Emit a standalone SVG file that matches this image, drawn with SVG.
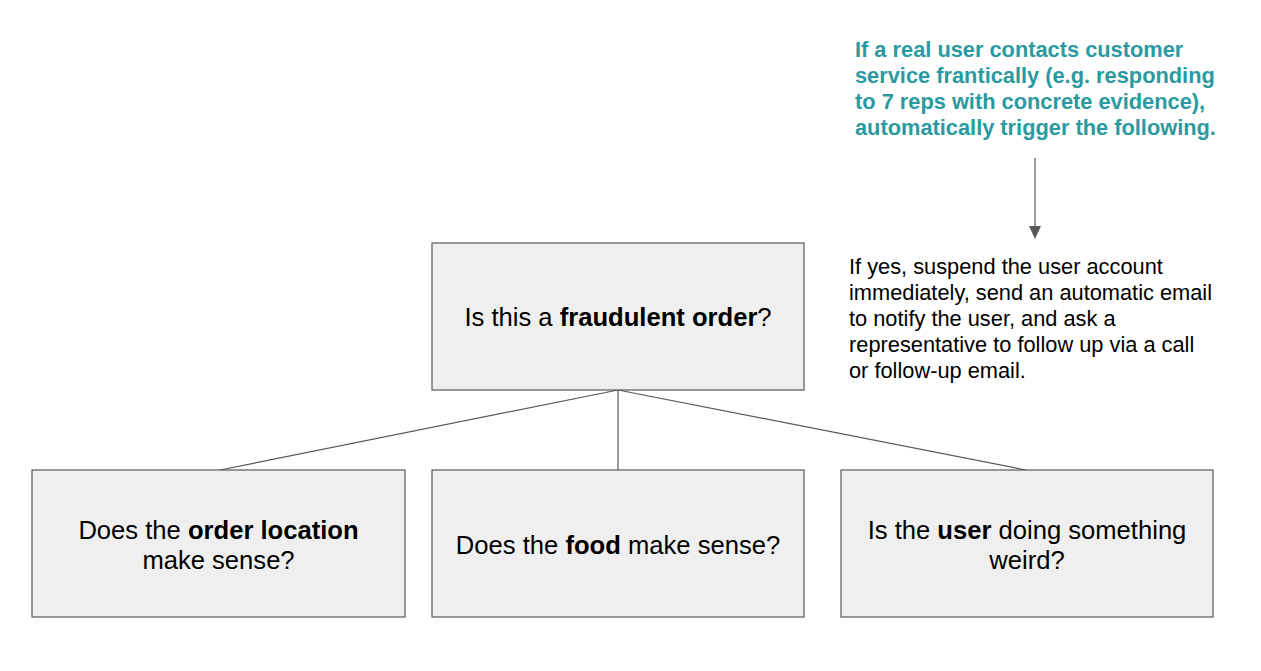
<svg xmlns="http://www.w3.org/2000/svg" width="1261" height="671" viewBox="0 0 1261 671">
<defs>
<style>
.box{fill:#efefef;stroke:#595959;stroke-width:1.2}
.conn{stroke:#595959;stroke-width:1.2;fill:none}
.t{font-family:"Liberation Sans",Arial,sans-serif;font-size:25.6px;fill:#000;text-anchor:middle}
.b{font-weight:bold}
.note{font-family:"Liberation Sans",Arial,sans-serif;font-size:21.8px;fill:#000}
.teal{font-family:"Liberation Sans",Arial,sans-serif;font-size:21.8px;font-weight:bold;fill:#2a9aa0}
</style>
</defs>
<rect width="1261" height="671" fill="#ffffff"/>
<g id="connectors">
<line class="conn" x1="618" y1="390" x2="220" y2="470"/>
<line class="conn" x1="618" y1="390" x2="618" y2="470"/>
<line class="conn" x1="618" y1="390" x2="1026" y2="470"/>
<line class="conn" x1="1035" y1="158" x2="1035" y2="228"/>
<path d="M1029,226 L1041,226 L1035,239 Z" fill="#595959"/>
</g>
<g id="trigger-note">
<text class="teal" x="855" y="57">If a real user contacts customer</text>
<text class="teal" x="855" y="83">service frantically (e.g. responding</text>
<text class="teal" x="855" y="109">to 7 reps with concrete evidence),</text>
<text class="teal" x="855" y="135">automatically trigger the following.</text>
</g>
<g id="action-note">
<text class="note" x="849" y="274">If yes, suspend the user account</text>
<text class="note" x="849" y="300">immediately, send an automatic email</text>
<text class="note" x="849" y="326">to notify the user, and ask a</text>
<text class="note" x="849" y="352">representative to follow up via a call</text>
<text class="note" x="849" y="378">or follow-up email.</text>
</g>
<g id="node-fraud">
<rect class="box" x="432" y="243" width="372" height="147"/>
<text class="t" x="618" y="326">Is this a <tspan class="b">fraudulent order</tspan>?</text>
</g>
<g id="node-location">
<rect class="box" x="32" y="470" width="373" height="147"/>
<text class="t" x="218.5" y="539">Does the <tspan class="b">order location</tspan></text>
<text class="t" x="218.5" y="569">make sense?</text>
</g>
<g id="node-food">
<rect class="box" x="432" y="470" width="372" height="147"/>
<text class="t" x="618" y="554">Does the <tspan class="b">food</tspan> make sense?</text>
</g>
<g id="node-user">
<rect class="box" x="841" y="470" width="372" height="147"/>
<text class="t" x="1027" y="539">Is the <tspan class="b">user</tspan> doing something</text>
<text class="t" x="1027" y="569">weird?</text>
</g>
</svg>
